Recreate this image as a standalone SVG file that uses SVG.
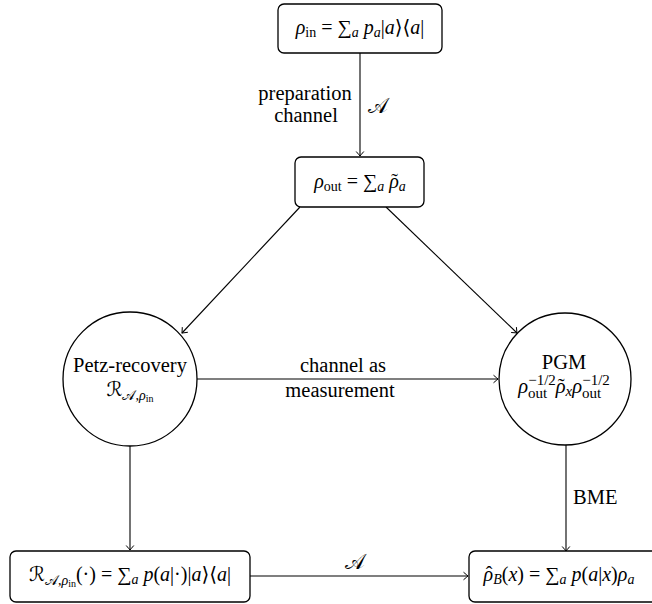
<svg xmlns="http://www.w3.org/2000/svg" width="652" height="604" viewBox="0 0 652 604" font-family="'Liberation Serif', 'DejaVu Serif', serif">
<style>
  text { font-family: 'Liberation Serif', 'Times New Roman', 'DejaVu Serif', serif; font-size: 20.5px; fill: #000; }
  .m { font-size: 20px; }
  .i { font-style: italic; }
  .s { font-size: 14px; }
  .ss { font-size: 10px; }
  .box { fill: #fff; stroke: #000; stroke-width: 1.3; }
  .node { fill: #fff; stroke: #000; stroke-width: 1.3; }
  .edge { fill: none; stroke: #000; stroke-width: 1.1; marker-end: url(#arr); }
  .cal { font-family: 'DejaVu Serif', 'DejaVu Sans', serif; font-style: normal; }
</style>
<defs>
  <marker id="arr" viewBox="-6 -5 7 10" refX="0" refY="0" markerWidth="7" markerHeight="10" markerUnits="userSpaceOnUse" orient="auto">
    <path d="M -4.5 -3.8 Q -1.2 -1 0 0 Q -1.2 1 -4.5 3.8" fill="none" stroke="#000" stroke-width="1"/>
  </marker>
</defs>

<g id="connectors">
  <line class="edge" x1="360" y1="53" x2="360" y2="156"/>
  <line class="edge" x1="300" y1="207" x2="182" y2="333"/>
  <line class="edge" x1="386" y1="207" x2="517" y2="333"/>
  <line class="edge" x1="197" y1="379" x2="498" y2="379"/>
  <line class="edge" x1="130" y1="446" x2="130" y2="550"/>
  <line class="edge" x1="566" y1="445" x2="566" y2="551"/>
  <line class="edge" x1="250" y1="576" x2="468" y2="576"/>
  <text x="305" y="100" text-anchor="middle">preparation</text>
  <text x="306" y="122" text-anchor="middle">channel</text>
  <text x="368" y="113" class="cal">𝒜</text>
  <text x="343" y="372" text-anchor="middle">channel as</text>
  <text x="340" y="397" text-anchor="middle">measurement</text>
  <text x="573" y="504">BME</text>
  <text x="355" y="569" text-anchor="middle" class="cal">𝒜</text>
</g>

<g id="rho_in">
  <rect class="box" x="278" y="4" width="164" height="49" rx="6"/>
  <text class="m" x="360" y="34" text-anchor="middle"><tspan class="i">ρ</tspan><tspan class="s" dy="3">in</tspan><tspan dy="-3"> = ∑</tspan><tspan class="s i" dy="3">a</tspan><tspan dy="-3"> </tspan><tspan class="i">p</tspan><tspan class="s i" dy="3">a</tspan><tspan dy="-3">|</tspan><tspan class="i">a</tspan><tspan>⟩⟨</tspan><tspan class="i">a</tspan><tspan>|</tspan></text>
</g>

<g id="rho_out">
  <rect class="box" x="295" y="157" width="129" height="50" rx="6"/>
  <text class="m" x="360" y="188" text-anchor="middle"><tspan class="i">ρ</tspan><tspan class="s" dy="3">out</tspan><tspan dy="-3"> = ∑</tspan><tspan class="s i" dy="3">a</tspan><tspan dy="-3"> </tspan><tspan class="i">ρ</tspan><tspan dx="-7.5">˜</tspan><tspan class="s i" dx="0.8" dy="3">a</tspan></text>
</g>

<g id="petz">
  <circle class="node" cx="130" cy="379" r="67"/>
  <text x="130" y="372" text-anchor="middle">Petz-recovery</text>
  <text class="m" x="130" y="396" text-anchor="middle"><tspan class="cal">ℛ</tspan><tspan class="s cal" dy="4">𝒜</tspan><tspan class="s">,</tspan><tspan class="s i">ρ</tspan><tspan class="ss" dy="2">in</tspan></text>
</g>

<g id="pgm">
  <circle class="node" cx="565" cy="379" r="66"/>
  <text x="564" y="369" text-anchor="middle">PGM</text>
  <text x="564" y="393" text-anchor="middle" font-size="21"><tspan class="i">ρ</tspan><tspan font-size="15" dy="5">out</tspan><tspan font-size="15" dx="-19" dy="-13">−1/2</tspan><tspan class="i" dy="8">ρ</tspan><tspan dx="-7.8">˜</tspan><tspan class="i" font-size="15" dx="0.8" dy="3">x</tspan><tspan class="i" dy="-3">ρ</tspan><tspan font-size="15" dy="5">out</tspan><tspan font-size="15" dx="-19" dy="-13">−1/2</tspan></text>
</g>

<g id="recovery_map">
  <rect class="box" x="10" y="551" width="240" height="51" rx="6"/>
  <text class="m" x="130" y="581" text-anchor="middle"><tspan class="cal">ℛ</tspan><tspan class="s cal" dy="4">𝒜</tspan><tspan class="s">,</tspan><tspan class="s i">ρ</tspan><tspan class="ss" dy="2">in</tspan><tspan dy="-6">(·) = ∑</tspan><tspan class="s i" dy="3">a</tspan><tspan dy="-3"> </tspan><tspan class="i">p</tspan><tspan>(</tspan><tspan class="i">a</tspan><tspan>|·)|</tspan><tspan class="i">a</tspan><tspan>⟩⟨</tspan><tspan class="i">a</tspan><tspan>|</tspan></text>
</g>

<g id="rho_B">
  <rect class="box" x="469" y="551" width="195" height="51" rx="6"/>
  <text class="m" x="559" y="581" text-anchor="middle"><tspan class="i">ρ</tspan><tspan dx="-7.5">ˆ</tspan><tspan class="s i" dx="0.8" dy="3">B</tspan><tspan dy="-3">(</tspan><tspan class="i">x</tspan><tspan>) = ∑</tspan><tspan class="s i" dy="3">a</tspan><tspan dy="-3"> </tspan><tspan class="i">p</tspan><tspan>(</tspan><tspan class="i">a</tspan><tspan>|</tspan><tspan class="i">x</tspan><tspan>)</tspan><tspan class="i">ρ</tspan><tspan class="s i" dy="3">a</tspan></text>
</g>
</svg>
